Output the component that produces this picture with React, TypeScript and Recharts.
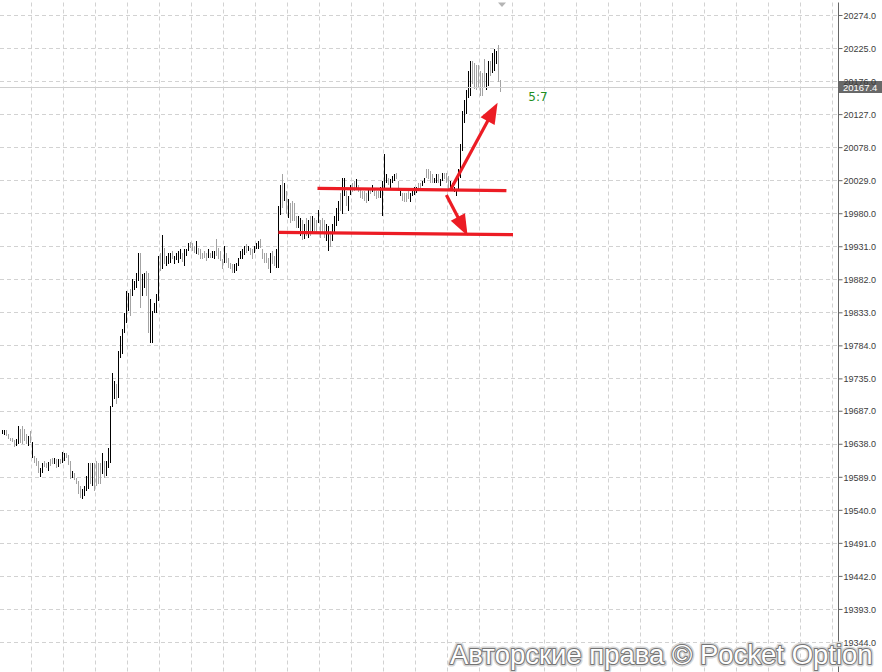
import {
  ComposedChart,
  Bar,
  XAxis,
  YAxis,
  CartesianGrid,
  ReferenceLine,
  ReferenceDot,
} from "recharts";

// bar highs / lows, one per bar
const high = [
  19659, 19659, 19659, 19653, 19647, 19647, 19644, 19646, 19665, 19661,
  19665, 19661, 19653, 19650, 19658, 19641, 19621, 19618, 19613, 19603,
  19610, 19613, 19610, 19612, 19616, 19618, 19618, 19616, 19616, 19616,
  19627, 19625, 19625, 19622, 19613, 19598, 19595, 19588, 19584, 19576,
  19572, 19576, 19591, 19610, 19610, 19610, 19610, 19613, 19610, 19610,
  19625, 19613, 19613, 19633, 19695, 19743, 19732, 19728, 19777, 19799,
  19809, 19832, 19866, 19863, 19869, 19883, 19880, 19892, 19922, 19921,
  19891, 19892, 19895, 19892, 19854, 19836, 19848, 19861, 19918, 19921,
  19949, 19929, 19918, 19922, 19922, 19925, 19918, 19921, 19925, 19928,
  19921, 19928, 19928, 19937, 19938, 19937, 19932, 19940, 19929, 19928,
  19922, 19925, 19922, 19928, 19922, 19925, 19925, 19943, 19929, 19925,
  19913, 19932, 19922, 19915, 19907, 19906, 19906, 19907, 19915, 19925,
  19928, 19932, 19935, 19932, 19929, 19928, 19932, 19937, 19940, 19943,
  19928, 19922, 19921, 19915, 19921, 19925, 19918, 19928, 19992, 20022,
  20039, 20025, 20014, 20002, 19996, 19999, 19996, 19977, 19977, 19974,
  19970, 19965, 19973, 19970, 19977, 19977, 19974, 19970, 19985, 19970,
  19974, 19970, 19965, 19962, 19955, 19965, 19977, 19989, 19999, 20011,
  20033, 20033, 20014, 20007, 20022, 20025, 20029, 20032, 20022, 20017,
  20014, 20014, 20011, 20017, 20017, 20022, 20017, 20014, 20014, 20019,
  20029, 20069, 20039, 20033, 20032, 20036, 20039, 20041, 20029, 20014,
  20011, 20010, 20010, 20014, 20010, 20014, 20019, 20019, 20025, 20026,
  20029, 20033, 20047, 20047, 20044, 20039, 20033, 20039, 20039, 20032,
  20041, 20041, 20041, 20036, 20029, 20026, 20019, 20017, 20047, 20084,
  20133, 20148, 20163, 20192, 20207, 20207, 20204, 20200, 20200, 20192,
  20189, 20210, 20188, 20207, 20207, 20219, 20225, 20222, 20230, 20178,
];

const low = [
  19653, 19652, 19650, 19646, 19643, 19641, 19633, 19635, 19638, 19640,
  19638, 19643, 19638, 19635, 19640, 19618, 19610, 19606, 19595, 19590,
  19595, 19604, 19603, 19598, 19606, 19609, 19609, 19603, 19604, 19609,
  19610, 19613, 19618, 19607, 19587, 19588, 19584, 19579, 19564, 19558,
  19557, 19561, 19569, 19572, 19579, 19576, 19569, 19576, 19579, 19579,
  19594, 19588, 19591, 19603, 19610, 19692, 19705, 19699, 19707, 19766,
  19772, 19803, 19818, 19836, 19829, 19858, 19866, 19870, 19880, 19839,
  19858, 19870, 19858, 19803, 19789, 19789, 19833, 19833, 19851, 19895,
  19898, 19906, 19903, 19906, 19907, 19913, 19906, 19910, 19907, 19913,
  19907, 19903, 19918, 19925, 19929, 19925, 19922, 19921, 19918, 19913,
  19913, 19915, 19910, 19915, 19915, 19915, 19913, 19918, 19913, 19910,
  19898, 19907, 19907, 19900, 19898, 19892, 19892, 19895, 19903, 19913,
  19913, 19918, 19922, 19925, 19918, 19913, 19922, 19928, 19928, 19929,
  19913, 19907, 19906, 19898, 19891, 19906, 19903, 19900, 19900, 19977,
  19989, 19999, 19980, 19974, 19967, 19970, 19970, 19959, 19959, 19947,
  19940, 19943, 19947, 19944, 19947, 19952, 19955, 19950, 19965, 19944,
  19950, 19944, 19940, 19925, 19932, 19940, 19952, 19962, 19970, 19985,
  19980, 20007, 19992, 19985, 20007, 20011, 20014, 20019, 20011, 20004,
  20002, 19999, 19996, 19999, 20010, 20011, 20007, 20002, 20004, 20002,
  19977, 20019, 20025, 20022, 20019, 20025, 20029, 20032, 20014, 20007,
  19999, 19996, 19996, 20002, 19996, 20007, 20007, 20010, 20017, 20019,
  20022, 20025, 20033, 20032, 20026, 20026, 20025, 20026, 20025, 20022,
  20029, 20032, 20026, 20017, 20014, 20014, 20011, 20007, 20014, 20033,
  20074, 20114, 20128, 20152, 20155, 20173, 20166, 20163, 20167, 20155,
  20155, 20167, 20163, 20170, 20185, 20189, 20192, 20203, 20175, 20160,
];

// U = rising bar (black), D = falling bar (grey)
const dir = (
  "UUDDDDDUUD" + "DDDUDUDDDU" + "UDDUDDUDUD" + "UUDDDUDDDD" + "UUUUDUDDDD" +
  "UDUUUUUDUU" + "UUUUDUUUUD" + "UUDDUUUUUD" + "UDUUUDUUUU" + "DUUUDDDUDD" +
  "DDDUDUUDDD" + "DUDDDDUUUU" + "UUDUDDUUUD" + "DDDDUDDUUU" + "DUDUDDDDUU" +
  "DUDUDUDDUD" + "DDUUDUUUUD" + "UUDUUDDUDD" + "DDDUDUDDDU" + "UUUDUUUDDU" +
  "DDDDUUUUDD" + "UUDDDDUUDU" + "UDDDUUUUUU" + "UUUUUDDDDD" + "DDUUDUUUDD"
).split("");

const yTicks = [
  19344, 19393, 19442, 19491, 19540, 19589, 19638, 19687, 19735, 19784,
  19833, 19882, 19931, 19980, 20029, 20078, 20127, 20176, 20225, 20274,
];
const yDomain = [19300.2, 20293.3];
const xDomain = [-0.85, 418.15];
const xGrid = [15, 31, 47, 63, 79, 95, 111, 127, 143, 159, 175, 191, 207, 223, 239, 255, 271, 287, 303, 319, 335, 351, 367, 383, 399, 415];

const lastPrice = 20167.4;
const timer = { label: "5:7", x: 268, y: 20153 };

// hand drawn levels and arrows (bar index, price)
const levels = [
  [{ x: 157.8, y: 20017.7 }, { x: 252.2, y: 20014.1 }],
  [{ x: 138.3, y: 19952.4 }, { x: 255.5, y: 19948.9 }],
];
const arrows = [
  [{ x: 224.2, y: 20015.2 }, { x: 247.8, y: 20144.7 }],
  [{ x: 222.2, y: 20007.7 }, { x: 232.8, y: 19947.4 }],
];

const watermark = "Авторские права © Pocket Option";

const data = high.map((h, i) => ({ i, range: [low[i], h], up: dir[i] === "U" }));

const RED = "#ec1c24";
const FONT = '"Liberation Sans", Arial, sans-serif';

// grid lines snapped to whole pixels so the dashes stay crisp
const gridX = ({ offset }: any) =>
  xGrid.map(
    (t) => Math.floor(offset.left + ((t - xDomain[0]) / (xDomain[1] - xDomain[0])) * offset.width) + 0.5
  );
const gridY = ({ offset }: any) =>
  yTicks.map(
    (t) => Math.floor(offset.top + ((yDomain[1] - t) / (yDomain[1] - yDomain[0])) * offset.height) + 0.5
  );

const OhlcBar = (p: any) => {
  const top = Math.round(Math.min(p.y, p.y + p.height));
  const h = Math.max(1, Math.round(Math.abs(p.height)));
  return <rect x={Math.round(p.x)} y={top} width={1} height={h} fill={p.payload.up ? "#000" : "#a3a3a3"} />;
};

const Arrow = (p: any) => {
  const { x1, y1, x2, y2 } = p;
  const dx = x2 - x1;
  const dy = y2 - y1;
  const len = Math.hypot(dx, dy) || 1;
  const ux = dx / len;
  const uy = dy / len;
  const hl = 21;
  const hw = 8;
  const bx = x2 - ux * hl;
  const by = y2 - uy * hl;
  return (
    <g>
      <line x1={x1} y1={y1} x2={bx + ux * 3} y2={by + uy * 3} stroke={RED} strokeWidth={3.2} />
      <polygon
        points={`${x2},${y2} ${bx - uy * hw},${by + ux * hw} ${bx + uy * hw},${by - ux * hw}`}
        fill={RED}
      />
    </g>
  );
};

const PriceLine = (p: any) => {
  const y = Math.floor(p.y1) + 0.5;
  return <line x1={p.x1} x2={p.x2} y1={y} y2={y} stroke="#cfcfcf" strokeWidth={1} />;
};

const PriceTag = (props: any) => {
  const vb = props.viewBox;
  const x = vb.x + vb.width;
  const y = Math.floor(vb.y);
  return (
    <g>
      <rect x={x} y={y - 6} width={44} height={12} fill="#686868" />
      <text x={x + 4.5} y={y + 3.5} fill="#fff" fontSize={9.5} fontFamily={FONT}>
        {lastPrice.toFixed(1)}
      </text>
    </g>
  );
};

const ShiftMarker = (p: any) => (
  <polygon points={`${p.cx - 4},${p.cy} ${p.cx + 4},${p.cy} ${p.cx},${p.cy + 4.5}`} fill="#b4b4b4" />
);

export default function App() {
  return (
    <div
      style={{
        position: "absolute",
        left: 0,
        top: 0,
        width: 882,
        height: 672,
        background: "#fff",
        overflow: "hidden",
      }}
    >
      <ComposedChart width={882} height={672} data={data} margin={{ top: 2.5, right: 0, bottom: 0, left: 0 }}>
        <CartesianGrid
          stroke="#d2d2d2"
          strokeDasharray="4 3"
          verticalCoordinatesGenerator={gridX}
          horizontalCoordinatesGenerator={gridY}
        />
        <XAxis
          dataKey="i"
          type="number"
          orientation="top"
          height={0}
          domain={xDomain}
          allowDataOverflow
          ticks={xGrid}
          tick={false}
          tickLine={false}
          axisLine={{ stroke: "#777" }}
        />
        <YAxis
          orientation="right"
          width={43.5}
          domain={yDomain}
          allowDataOverflow
          ticks={yTicks}
          interval={0}
          tickFormatter={(v: number) => v.toFixed(1)}
          tickSize={4}
          tickMargin={1}
          axisLine={{ stroke: "#666" }}
          tickLine={{ stroke: "#666" }}
          tick={{ fontSize: 9, fill: "#3c3c3c", fontFamily: FONT }}
        />
        <Bar dataKey="range" barSize={1} isAnimationActive={false} shape={OhlcBar} />
        <ReferenceLine y={lastPrice} shape={PriceLine} label={(props: any) => <PriceTag {...props} />} />
        {levels.map((seg, k) => (
          <ReferenceLine key={"l" + k} segment={seg} stroke={RED} strokeWidth={3.2} />
        ))}
        {arrows.map((seg, k) => (
          <ReferenceLine key={"a" + k} segment={seg} shape={Arrow} />
        ))}
        <ReferenceDot
          x={timer.x}
          y={timer.y}
          r={0}
          fill="none"
          stroke="none"
          label={{ value: timer.label, position: "center", fill: "#1f8f1f", fontSize: 12, fontFamily: "DejaVu Sans" }}
        />
        <ReferenceDot x={high.length} y={yDomain[1]} shape={ShiftMarker} />
      </ComposedChart>
      <svg width={882} height={672} style={{ position: "absolute", left: 0, top: 0, pointerEvents: "none" }}>
        <text x={450} y={664} fontSize={27.5} fontFamily={FONT} fill="#d6d6d6" stroke="#d6d6d6" strokeWidth={5} strokeLinejoin="round">
          {watermark}
        </text>
        <text
          x={450}
          y={664}
          fontSize={27.5}
          fontFamily={FONT}
          fill="#fff"
          stroke="#747474"
          strokeWidth={2}
          strokeLinejoin="round"
          paintOrder="stroke"
        >
          {watermark}
        </text>
      </svg>
    </div>
  );
}
